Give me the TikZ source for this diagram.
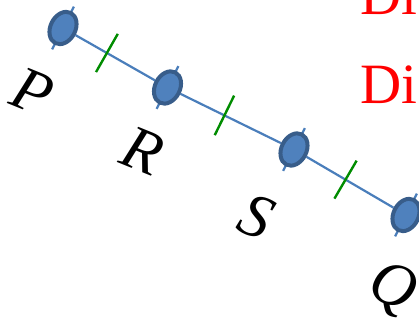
\documentclass[tikz,border=0pt]{standalone}
\usepackage{fontspec}
\setmainfont{Liberation Serif}
\usetikzlibrary{calc,shapes.geometric,backgrounds}
\definecolor{spotfill}{HTML}{4F81BD}
\definecolor{spotring}{HTML}{385D8A}
\definecolor{lineblue}{HTML}{4A7EBB}
\definecolor{tickgreen}{RGB}{0,140,0}

\begin{document}
\begin{tikzpicture}[x=1pt,y=-1pt]
  \tikzset{
    spot/.style={ellipse, draw=spotring, fill=spotfill, line width=4pt, minimum width=25pt, minimum height=34pt, inner sep=0pt, rotate=-27},
    spotline/.style={lineblue, line width=2.2pt},
    eqtick/.style={tickgreen, line width=2.4pt},
    ptlabel/.style={font=\fontsize{62}{66}\selectfont\itshape, rotate=-22, inner sep=0pt},
    rednote/.style={red, font=\fontsize{57}{64}\selectfont, anchor=base west, inner sep=0pt}
  }

  \useasboundingbox (0,0) rectangle (419,320);

  % points on the line
  \node[spot] (P) at (63,28) {};
  \node[spot] (R) at (167.5,87.5) {};
  \node[spot] (S) at (294,149.5) {};
  \node[spot] (Q) at (406,215) {};

  % line and small cross lines, behind the points
  \begin{scope}[on background layer]
    \draw[spotline] (P) -- (R) -- (S) -- (Q);
    \foreach \p in {P,R,S,Q}
      \draw[spotline] ($(\p.north)!-5pt!(\p.south)$) -- ($(\p.south)!-5pt!(\p.north)$);
  \end{scope}

  % equal-length marks
  \foreach \a/\b/\f in {P/R/0.42,R/S/0.45,S/Q/0.46} {
    \coordinate (m) at ($(\a)!\f!(\b)$);
    \draw[eqtick] ($(m)!22pt!90:(\b)$) -- ($(m)!22pt!-90:(\b)$);
  }

  % point names
  \node[ptlabel] (lP) at (33,92) {P};
  \node[ptlabel] (lR) at (143,151) {R};
  \node[ptlabel] (lS) at (256,217) {S};
  \node[ptlabel] (lQ) at (392,290) {Q};

  % text on the right
  \node[rednote] (di1) at (360,15) {Di};
  \node[rednote] (di2) at (360,104) {Di};

\end{tikzpicture}
\end{document}
